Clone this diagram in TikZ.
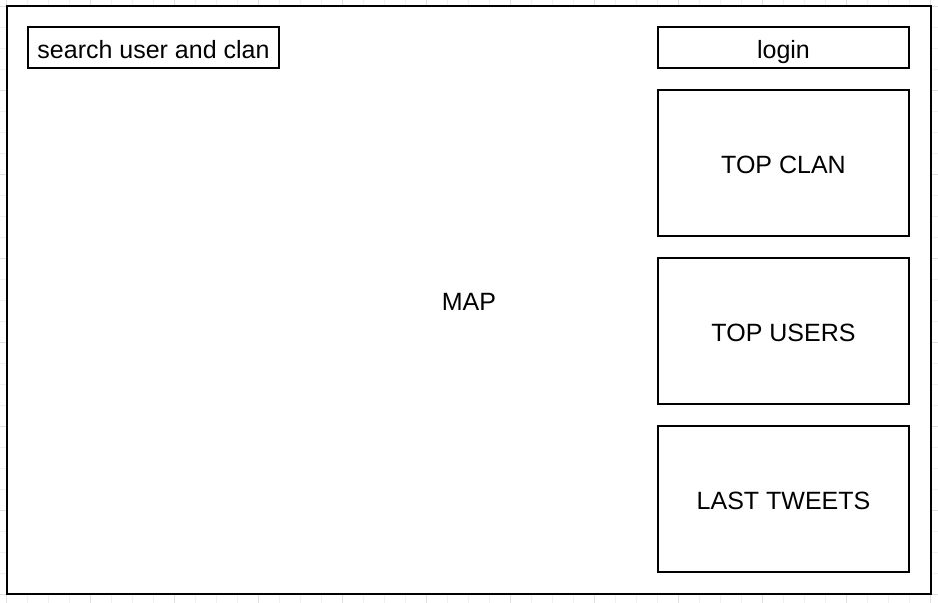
\documentclass[tikz,border=0pt]{standalone}
\usepackage{fontspec}
\setmainfont{Liberation Sans}
\usetikzlibrary{positioning}
\tikzset{
  frame/.style    ={rectangle,draw,line width=1.6pt,fill=white,minimum width=924pt,
                    minimum height=588pt,inner sep=0pt,outer sep=0pt,anchor=north west,
                    text height=21pt,text depth=0pt,font=\fontsize{25}{29}\selectfont},
  field/.style    ={rectangle,draw,line width=1.5pt,minimum width=251pt,minimum height=41pt,
                    inner sep=0pt,outer sep=0pt,text height=21pt,text depth=0pt,
                    font=\fontsize{25}{29}\selectfont},
  panel/.style    ={field,minimum height=146pt},
  minorgrid/.style={black!6,line width=0.6pt},
  majorgrid/.style={black!12,line width=0.6pt}
}

\begin{document}
\begin{tikzpicture}[x=1pt,y=-1pt,node distance=22pt]
  \useasboundingbox (0,0) rectangle (938,603);
  % Grid
  \foreach \i in {0,...,44} {
    \pgfmathtruncatemacro{\m}{mod(\i,4)}
    \ifnum\m=0 \draw[majorgrid] ({6+21*\i},0) -- ({6+21*\i},603);
    \else \draw[minorgrid] ({6+21*\i},0) -- ({6+21*\i},603); \fi
  }
  \foreach \j in {0,...,28} {
    \pgfmathtruncatemacro{\m}{mod(\j,4)}
    \ifnum\m=0 \draw[majorgrid] (0,{6+21*\j}) -- (938,{6+21*\j});
    \else \draw[minorgrid] (0,{6+21*\j}) -- (938,{6+21*\j}); \fi
  }

  % Nodes
  \node (map)      [frame] at (7,6)                {MAP};
  \node (search)   [field,anchor=north west] at (28,27) {search user and clan};
  \node (login)    [field,anchor=north west] at (658,27) {login};
  \node (topclan)  [panel, below=of login]         {TOP CLAN};
  \node (topusers) [panel, below=of topclan]       {TOP USERS};
  \node (tweets)   [panel, below=of topusers]      {LAST TWEETS};
\end{tikzpicture}
\end{document}
